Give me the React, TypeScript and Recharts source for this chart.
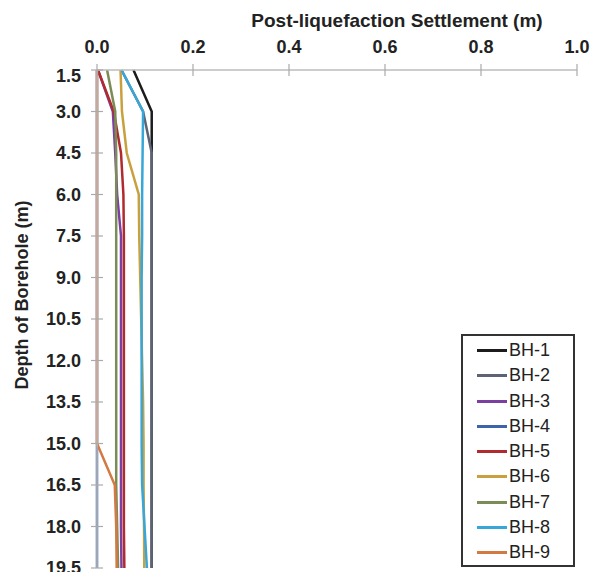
import { Line, LineChart, XAxis, YAxis } from "recharts";

const depths = [1.5, 3.0, 4.5, 6.0, 7.5, 9.0, 10.5, 12.0, 13.5, 15.0, 16.5, 18.0, 19.5];
const settlementTicks = [0, 0.2, 0.4, 0.6, 0.8, 1.0];

const bh1 = [0.076, 0.114, 0.114, 0.114, 0.114, 0.114, 0.114, 0.114, 0.114, 0.114, 0.114, 0.114, 0.114];
const bh2 = [0.051, 0.096, 0.114, 0.114, 0.114, 0.114, 0.114, 0.114, 0.114, 0.114, 0.114, 0.114, 0.114];
const bh3 = [0.002, 0.033, 0.038, 0.042, 0.05, 0.05, 0.05, 0.05, 0.05, 0.05, 0.05, 0.05, 0.051];
const bh4 = [0, 0, 0, 0, 0, 0, 0, 0, 0, 0, 0, 0, 0];
const bh5 = [0.002, 0.035, 0.05, 0.055, 0.056, 0.056, 0.056, 0.056, 0.056, 0.056, 0.056, 0.056, 0.057];
const bh6 = [0.049, 0.052, 0.062, 0.087, 0.088, 0.09, 0.092, 0.094, 0.096, 0.097, 0.097, 0.098, 0.0985];
const bh7 = [0.021, 0.038, 0.04, 0.04, 0.04, 0.04, 0.04, 0.04, 0.04, 0.04, 0.04, 0.042, 0.044];
const bh8 = [0.051, 0.096, 0.095, 0.094, 0.094, 0.093, 0.093, 0.093, 0.093, 0.093, 0.094, 0.099, 0.104];
const bh9 = [0, 0, 0, 0, 0, 0, 0, 0, 0, 0, 0.037, 0.04, 0.041];

const names = ["BH-1", "BH-2", "BH-3", "BH-4", "BH-5", "BH-6", "BH-7", "BH-8", "BH-9"];
const colors = ["#1c1c1c", "#5b6374", "#7a3fa0", "#3d64a8", "#b02a2e", "#c9a03e", "#7b8d57", "#38a7d8", "#d27a44"];

const series = [bh1, bh2, bh3, bh4, bh5, bh6, bh7, bh8, bh9];
const rows = depths.map((d, i) => {
  const r: Record<string, number> = { depth: d };
  series.forEach((s, k) => (r[`bh${k + 1}`] = s[i]));
  return r;
});

const FONT = "'Liberation Sans', Arial, sans-serif";
const AXIS_X = 97;
const AXIS_Y = 70;

function DepthTick(p: any) {
  const y = p.y;
  return (
    <g>
      <line x1={AXIS_X - 6} x2={AXIS_X + 6} y1={y} y2={y} stroke="#aaa" strokeWidth={1.2} />
      <text
        x={81}
        y={y + (p.index === 0 ? 6 : 0)}
        dy="0.36em"
        textAnchor="end"
        fontFamily={FONT}
        fontWeight="bold"
        fontSize={18}
        fill="#222"
      >
        {Number(p.payload.value).toFixed(1)}
      </text>
    </g>
  );
}

function SettlementTick(p: any) {
  const x = p.x;
  return (
    <g>
      <line x1={x} x2={x} y1={AXIS_Y - 6} y2={AXIS_Y + 6} stroke="#aaa" strokeWidth={1.2} />
      <text x={x} y={53} textAnchor="middle" fontFamily={FONT} fontWeight="bold" fontSize={18} fill="#222">
        {Number(p.payload.value).toFixed(1)}
      </text>
    </g>
  );
}

function BoxLegend() {
  return (
    <div
      style={{
        position: "absolute",
        left: 461,
        top: 334,
        width: 110,
        height: 227,
        border: "2px solid #333",
        background: "#fff",
        fontFamily: FONT,
        fontSize: 18,
        color: "#222",
        paddingTop: 2,
        boxSizing: "content-box",
      }}
    >
      {names.map((n, i) => (
        <div key={n} style={{ height: 25.25, display: "flex", alignItems: "center" }}>
          <span style={{ display: "inline-block", width: 30, height: 3, background: colors[i], marginLeft: 14, marginRight: 2 }} />
          <span>{n}</span>
        </div>
      ))}
    </div>
  );
}

export default function App() {
  return (
    <div style={{ position: "absolute", left: 0, top: 0, width: 603, height: 572, overflow: "hidden", background: "#fff" }}>
      <LineChart
        layout="vertical"
        width={603}
        height={572}
        data={rows}
        margin={{ top: 0, right: 26, bottom: 4, left: 0 }}
      >
        <XAxis
          xAxisId="top"
          orientation="top"
          type="number"
          domain={[0, 1]}
          ticks={settlementTicks}
          height={70}
          axisLine={{ stroke: "#bdbdbd", strokeWidth: 1.5 }}
          tickLine={false}
          tick={<SettlementTick />}
          label={{
            content: () => (
              <text x={397} y={27} textAnchor="middle" fontFamily={FONT} fontWeight="bold" fontSize={19} fill="#222">
                Post-liquefaction Settlement (m)
              </text>
            ),
          }}
        />
        <XAxis
          xAxisId="bottom"
          orientation="bottom"
          type="number"
          domain={[0, 1]}
          height={0}
          tick={false}
          tickLine={false}
          axisLine={{ stroke: "#999", strokeWidth: 1.5 }}
        />
        <YAxis
          yAxisId="left"
          type="number"
          dataKey="depth"
          domain={[1.5, 19.5]}
          ticks={depths}
          width={97}
          axisLine={{ stroke: "#bdbdbd", strokeWidth: 1.5 }}
          tickLine={false}
          tick={<DepthTick />}
          interval={0}
          label={{
            content: () => (
              <text
                x={22}
                y={295}
                transform="rotate(-90, 22, 295)"
                textAnchor="middle"
                dy="0.36em"
                fontFamily={FONT}
                fontWeight="bold"
                fontSize={18}
                fill="#222"
              >
                Depth of Borehole (m)
              </text>
            ),
          }}
        />
        <YAxis
          yAxisId="right"
          orientation="right"
          type="number"
          domain={[1.5, 19.5]}
          width={0}
          tick={false}
          tickLine={false}
          axisLine={{ stroke: "#555", strokeWidth: 1.5 }}
        />
        {names.map((n, i) => (
          <Line
            key={n}
            xAxisId="top"
            yAxisId="left"
            dataKey={`bh${i + 1}`}
            name={n}
            stroke={colors[i]}
            strokeWidth={2.5}
            dot={false}
            isAnimationActive={false}
          />
        ))}
      </LineChart>
      <BoxLegend />
    </div>
  );
}
